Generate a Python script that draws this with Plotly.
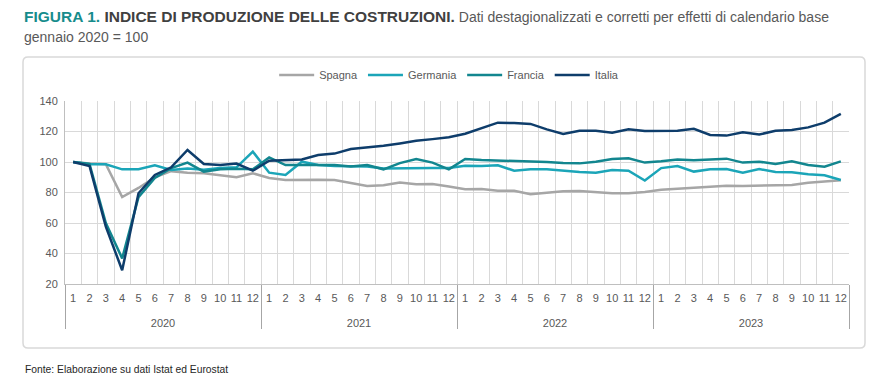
import plotly.graph_objects as go

years = ["2020", "2021", "2022", "2023"]
months = [str(m) for m in range(1, 13)]

spagna = [100, 99, 98.5, 77, 83, 90, 94, 93, 92.6, 91.5, 90, 92.6,
          89.5, 88.2, 88.5, 88.4, 88.2, 86, 84.3, 84.8, 86.5, 85.4, 85.5, 84,
          82.2, 82.3, 81.2, 81.2, 78.8, 79.9, 80.8, 81, 80.4, 79.5, 79.5, 80.4,
          81.8, 82.5, 83.2, 83.6, 84.5, 84.3, 84.4, 84.7, 85, 86.4, 87.1, 88]
germania = [100, 98.5, 98.5, 95.2, 95.2, 97.8, 94.8, 95.8, 95, 96, 96.5, 106.8,
            93, 91.5, 100.2, 98, 97.4, 97.4, 97, 95.8, 96, 96, 96, 96,
            97.6, 97.4, 97.8, 94.3, 95.2, 95.2, 94.3, 93.4, 93, 94.8, 94.3, 87.8,
            96, 97.4, 93.7, 95.2, 95.4, 93, 95.4, 93.4, 93.2, 91.9, 91.3, 88.2]
francia = [100, 98.8, 60, 36.8, 77, 89.5, 96, 99.6, 93.7, 95.2, 95.6, 95.2,
           103, 98, 98, 98, 98, 97, 98, 95.2, 99.3, 102, 99.6, 95.2,
           102, 101.3, 101, 100.7, 100.2, 100, 99.3, 99.1, 100.2, 102, 102.4, 99.6,
           100.5, 101.7, 101.1, 101.5, 102.2, 99.6, 100.2, 98.7, 100.4, 98, 96.9, 100.4]
italia = [100, 97.4, 57.6, 29, 79.5, 91.5, 96.5, 107.9, 98.7, 98, 99, 94.3,
          100.9, 101.3, 101.7, 104.6, 105.5, 108.5, 109.6, 110.6, 112.2, 113.9, 115, 116.2,
          118.5, 122.1, 125.8, 125.5, 125, 121.4, 118.4, 120.5, 120.5, 119.2, 121.4, 120.3,
          120.5, 120.5, 121.8, 117.7, 117.3, 119.5, 118, 120.5, 121, 122.7, 125.8, 131.5]

x_years = ["<br>" + y for y in years for _ in months]
x_months = [m for _ in years for m in months]

FONT = "Liberation Sans, Arial, sans-serif"

series = [
    ("Spagna", spagna, "#A6A6A6"),
    ("Germania", germania, "#1BA5B8"),
    ("Francia", francia, "#12868F"),
    ("Italia", italia, "#0E3D6B"),
]

fig = go.Figure()
for name, vals, col in series:
    fig.add_trace(go.Scatter(
        x=[x_years, x_months], y=vals, name=name, mode="lines",
        line=dict(color=col, width=2.5),
    ))

L, T, R, B = 65, 101, 849, 284
PW, PH = R - L, B - T

def px(x):
    return (x - L) / PW

def py(y):
    return (B - y) / PH

# rounded frame around the chart
bx0, bx1, by0, by1, rad = 23, 865, 57, 348, 5
frame = (f"M {px(bx0 + rad)},{py(by0)} L {px(bx1 - rad)},{py(by0)} "
         f"Q {px(bx1)},{py(by0)} {px(bx1)},{py(by0 + rad)} "
         f"L {px(bx1)},{py(by1 - rad)} Q {px(bx1)},{py(by1)} {px(bx1 - rad)},{py(by1)} "
         f"L {px(bx0 + rad)},{py(by1)} Q {px(bx0)},{py(by1)} {px(bx0)},{py(by1 - rad)} "
         f"L {px(bx0)},{py(by0 + rad)} Q {px(bx0)},{py(by0)} {px(bx0 + rad)},{py(by0)} Z")

fig.update_layout(
    width=889, height=381,
    margin=dict(l=L, r=889 - R, t=T, b=381 - B, autoexpand=False),
    paper_bgcolor="white", plot_bgcolor="white",
    font=dict(family=FONT, size=11, color="#595959"),
    showlegend=True,
    legend=dict(orientation="h", x=0.49, xanchor="center", y=py(75), yanchor="middle",
                font=dict(size=11, color="#595959"), tracegroupgap=0, itemwidth=35),
    xaxis=dict(
        type="multicategory", tickson="boundaries", ticks="", tickangle=0,
        range=[-0.5, len(x_months) - 0.5],
        ticklabelstandoff=4,
        showgrid=True, gridcolor="#D9D9D9", gridwidth=1,
        showdividers=True, dividercolor="#A6A6A6", dividerwidth=1,
        showline=True, linecolor="#BFBFBF", linewidth=1,
        tickfont=dict(size=11, color="#595959"),
    ),
    yaxis=dict(
        range=[20, 140], dtick=20, tick0=20,
        showgrid=True, gridcolor="#D9D9D9", gridwidth=1,
        zeroline=False, showline=True, linecolor="#BFBFBF", linewidth=1,
        ticks="", ticklabelstandoff=4, tickfont=dict(size=11, color="#595959"),
    ),
    shapes=[dict(type="path", xref="paper", yref="paper", path=frame,
                 line=dict(color="#D9D9D9", width=1.5), layer="below")],
    annotations=[
        dict(text=("<b><span style='color:#168C8C'>FIGURA 1.</span> "
                   "<span style='color:#404040'>INDICE DI PRODUZIONE DELLE COSTRUZIONI.</span></b>"
                   "<span style='color:#595959;font-size:14px'> Dati destagionalizzati e corretti per effetti di calendario base</span>"),
             xref="paper", yref="paper", x=px(22), xanchor="left", y=py(17), yanchor="middle",
             showarrow=False, font=dict(size=15.5, family=FONT)),
        dict(text="gennaio 2020 = 100",
             xref="paper", yref="paper", x=px(22), xanchor="left", y=py(37), yanchor="middle",
             showarrow=False, font=dict(size=14, color="#595959", family=FONT)),
        dict(text="Fonte: Elaborazione su dati Istat ed Eurostat",
             xref="paper", yref="paper", x=px(23), xanchor="left", y=py(369), yanchor="middle",
             showarrow=False, font=dict(size=10.3, color="#262626", family=FONT)),
    ],
)

fig.write_html("out.html", config={"displayModeBar": False},
               post_script="document.body.style.margin='0';")
